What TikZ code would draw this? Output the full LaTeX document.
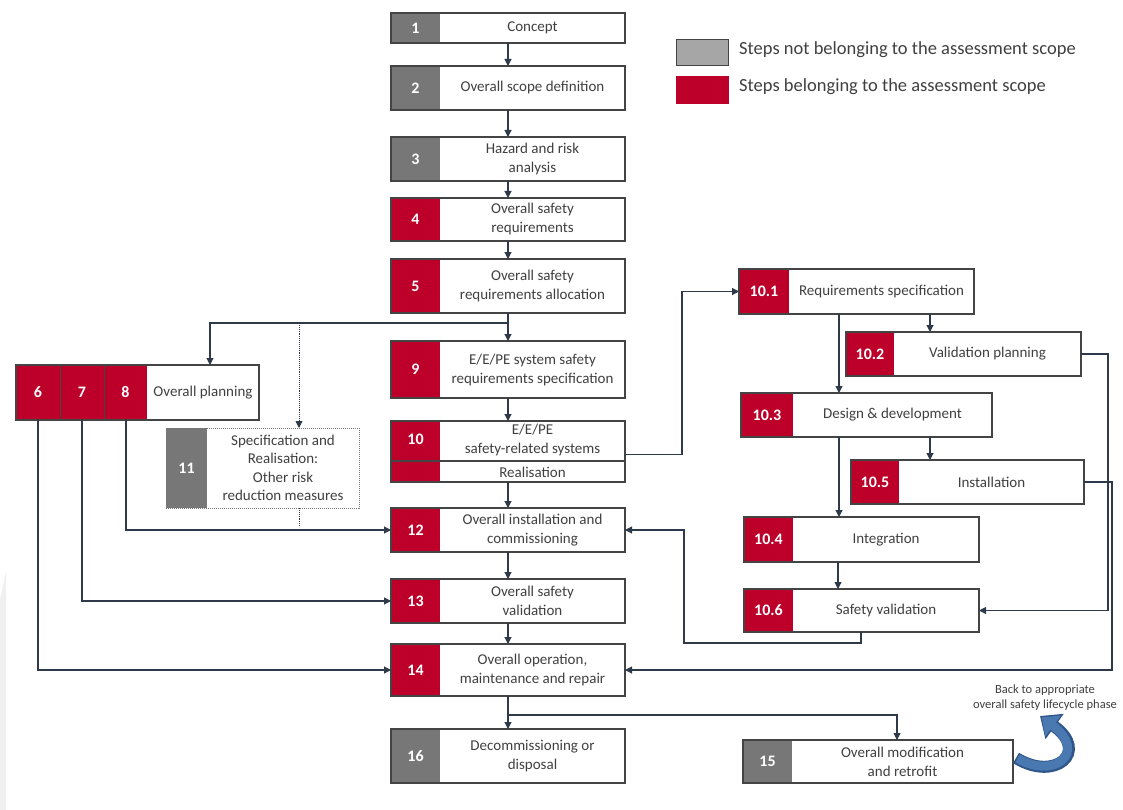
\documentclass[tikz,border=0pt]{standalone}
\usepackage{fontspec}
\setmainfont{Carlito}
\usetikzlibrary{arrows.meta,calc}
\definecolor{cred}{HTML}{BC0029}
\definecolor{cgrey}{HTML}{777777}
\definecolor{lgrey}{HTML}{A6A6A6}
\definecolor{cframe}{HTML}{444444}
\definecolor{cconn}{HTML}{2E3A4A}
\definecolor{ctxt}{HTML}{404040}
\definecolor{arrblue}{HTML}{4A78B0}
\definecolor{arrdark}{HTML}{2F5589}
\tikzset{
  stepframe/.style={fill=white, inner sep=0pt, outer sep=0pt},
  framelines/.style={draw=cframe, line width=1.1pt},
  numtext/.style={text=white, font=\fontsize{16}{18}\selectfont\bfseries, inner sep=0pt},
  lbl/.style={text=ctxt, font=\fontsize{15}{19}\selectfont, align=center, inner sep=0pt},
  conn/.style={draw=cconn, line width=1.1pt, -{Triangle[length=7pt,width=7pt]}},
  connline/.style={draw=cconn, line width=1.1pt},
  dotconn/.style={draw=cconn, line width=0.9pt, densely dotted, -{Triangle[length=7pt,width=7pt]}},
  dotline/.style={draw=cconn, line width=0.9pt, densely dotted},
  legtext/.style={text=ctxt, font=\fontsize{18.5}{20}\selectfont, anchor=west, inner sep=0pt},
}
% name, x1, y1, x2, y2, xnum, colour, number, text
\newcommand{\stepbox}[9]{%
  \node[stepframe, minimum width={#4-#2}, minimum height={#5-#3}] (#1) at ({(#2+#4)/2},{(#3+#5)/2}) {};
  \fill[#7] (#2,#3) rectangle (#6,#5);
  \draw[framelines] (#2,#3) rectangle (#4,#5);
  \node[numtext] at ({(#2+#6)/2},{(#3+#5)/2}) {#8};
  \node[lbl] at ({(#6+#4)/2},{(#3+#5)/2}) {#9};
}
\begin{document}
\begin{tikzpicture}[x=1pt,y=-1pt]
\useasboundingbox (0,0) rectangle (1123,810);
\fill[white] (0,0) rectangle (1123,810);
\fill[gray!12] (0,600) -- (6,572) -- (6,810) -- (0,810) -- cycle;

% legend
\node[draw=cframe, line width=1pt, fill=lgrey, minimum width=52, minimum height=26, inner sep=0pt] (lg1) at (702,53) {};
\node[fill=cred, minimum width=53, minimum height=28, inner sep=0pt] (lg2) at (702,90) {};
\node[legtext] (lt1) at (739,50) {Steps not belonging to the assessment scope};
\node[legtext] (lt2) at (739,87) {Steps belonging to the assessment scope};

% main column
\stepbox{b1}{391}{13}{625}{43}{440}{cgrey}{1}{Concept}
\stepbox{b2}{391}{66}{625}{110}{440}{cgrey}{2}{Overall scope definition}
\stepbox{b3}{391}{137}{625}{181}{440}{cgrey}{3}{Hazard and risk\\analysis}
\stepbox{b4}{391}{198}{625}{241}{440}{cred}{4}{Overall safety\\requirements}
\stepbox{b5}{391}{259}{625}{313}{440}{cred}{5}{Overall safety\\requirements allocation}
\stepbox{b9}{391}{341}{625}{398}{440}{cred}{9}{E/E/PE system safety\\requirements specification}

% box 10
\node[stepframe, minimum width=234, minimum height=61] (b10) at (508,451.5) {};
\fill[cred] (391,421) rectangle (440,482);
\draw[framelines] (391,461) -- (625,461);
\draw[framelines] (391,421) rectangle (625,482);
\node[numtext] at (415.5,439) {10};
\node[lbl] at (532.5,440) {E/E/PE\\safety-related systems};
\node[lbl] at (532.5,472) {Realisation};

\stepbox{b12}{391}{508}{625}{552}{440}{cred}{12}{Overall installation and\\commissioning}
\stepbox{b13}{391}{579}{625}{623}{440}{cred}{13}{Overall safety\\validation}
\stepbox{b14}{391}{644}{625}{696}{440}{cred}{14}{Overall operation,\\maintenance and repair}
\stepbox{b16}{391}{729}{625}{783}{440}{cgrey}{16}{Decommissioning or\\disposal}
\stepbox{b15}{743}{740}{1013}{783}{792}{cgrey}{15}{Overall modification\\and retrofit}

% boxes 6 7 8
\node[stepframe, minimum width=243, minimum height=55] (b678) at (137.5,392.5) {};
\fill[cred] (16,365) rectangle (147,420);
\draw[draw=cframe, line width=0.6pt] (60,365) -- (60,420) (104,365) -- (104,420);
\draw[framelines] (16,365) rectangle (259,420);
\node[numtext] at (38,392.5) {6};
\node[numtext] at (82,392.5) {7};
\node[numtext] at (125.5,392.5) {8};
\node[lbl] at (203,392.5) {Overall planning};

% box 11
\node[stepframe, minimum width=193, minimum height=80] (b11) at (262.5,468) {};
\fill[cgrey] (166,428) rectangle (207,508);
\draw[draw=cgrey, line width=1pt, densely dotted] (166,428) rectangle (359,508);
\node[numtext] at (186.5,468) {11};
\node[lbl, font=\fontsize{15}{18.5}\selectfont] at (283,468) {Specification and\\Realisation:\\Other risk\\reduction measures};

% sub-steps of 10
\stepbox{b101}{739}{269}{974}{314}{789}{cred}{10.1}{Requirements specification}
\stepbox{b102}{846}{332}{1081}{376}{894}{cred}{10.2}{Validation planning}
\stepbox{b103}{741}{393}{992}{437}{793}{cred}{10.3}{Design \& development}
\stepbox{b105}{851}{460}{1084}{504}{899}{cred}{10.5}{Installation}
\stepbox{b104}{744}{517}{979}{562}{793}{cred}{10.4}{Integration}
\stepbox{b106}{744}{589}{979}{632}{793}{cred}{10.6}{Safety validation}

% connectors main column
\draw[conn] (b1.south) -- (b2.north);
\draw[conn] (b2.south) -- (b3.north);
\draw[conn] (b3.south) -- (b4.north);
\draw[conn] (b4.south) -- (b5.north);
\draw[conn] (b5.south) -- (b9.north);
\draw[conn] (b9.south) -- (b10.north);
\draw[conn] (b10.south) -- (b12.north);
\draw[conn] (b12.south) -- (b13.north);
\draw[conn] (b13.south) -- (b14.north);
\draw[conn] (b14.south) -- (b16.north);
\coordinate (j5) at (508,323);
\coordinate (j14) at (508,715);
\draw[conn] (j5) -| ([xshift=194pt]b678.north west);
\coordinate (d11) at ([xshift=133pt]b11.north west);
\draw[dotconn] (j5 -| d11) -- (d11);
\draw[dotline] (d11 |- b11.south) -- ++(0,19);
\draw[conn] (j14) -| ([xshift=154pt]b15.north west);

% from 6 7 8
\draw[conn] ([xshift=22pt]b678.south west) |- (b14.west);
\draw[conn] ([xshift=66pt]b678.south west) |- (b13.west);
\draw[conn] ([xshift=110pt]b678.south west) |- (b12.west);

% 10 sub-lifecycle
\draw[conn] ([yshift=-3pt]b10.east) -- ++(57,0) |- (b101.west);
\coordinate (a102) at ([xshift=84pt]b102.north west);
\draw[conn] (b101.south -| a102) -- (a102);
\coordinate (a103) at ([xshift=98pt]b103.north west);
\draw[conn] (b101.south -| a103) -- (a103);
\coordinate (a105) at ([xshift=79pt]b105.north west);
\draw[conn] (b103.south -| a105) -- (a105);
\coordinate (a104) at ([xshift=95pt]b104.north west);
\draw[conn] (b103.south -| a104) -- (a104);
\coordinate (a106) at ([xshift=94pt]b106.north west);
\draw[conn] (b104.south -| a106) -- (a106);
\draw[conn] (b102.east) -- ++(27,0) |- (b106.east);
\draw[conn] (b105.east) -- ++(28,0) |- (b14.east);
\draw[conn] ([xshift=117pt]b106.south west) |- (684,643) |- (b12.east);

% back arrow
\node[text=ctxt, font=\fontsize{12.5}{15}\selectfont, align=center, inner sep=0pt] (back) at (1045,698) {Back to appropriate\\overall safety lifecycle phase};
\draw[arrdark, line width=12pt, -{Triangle[length=18pt,width=30pt]}] (1016,758) .. controls (1055,782) and (1090,752) .. (1040,716);
\draw[arrblue, line width=9pt, shorten >=2pt, -{Triangle[length=14.5pt,width=25pt]}] (1017.5,758.5) .. controls (1055,780) and (1088,752) .. (1040,716);
\end{tikzpicture}
\end{document}
